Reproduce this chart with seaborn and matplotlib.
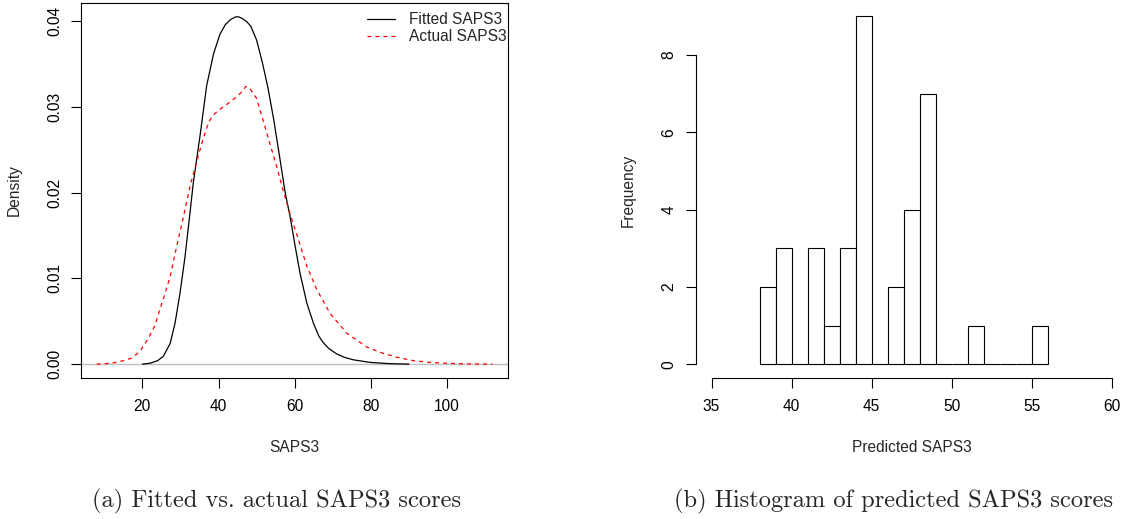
import numpy as np
import pandas as pd
import matplotlib
matplotlib.use("Agg")
import matplotlib.pyplot as plt
import seaborn as sns

# ---- data ----
fitted_x = [20, 22, 24, 25.5, 27.3, 28.6, 29.9, 31.2, 32.5, 33.4, 35.2, 36.9, 38.7, 40.4,
            41.8, 43.2, 44.5, 45.3, 46.3, 47.5, 48.5, 50.0, 51.5, 53.0, 54.5, 56.0, 57.5,
            58.8, 60.1, 61.4, 63.2, 64.9, 66.3, 67.5, 69.0, 71.0, 73.0, 75.4, 79.8, 85, 90]
fitted_y = [0.0000, 0.0001, 0.0004, 0.0009, 0.0024, 0.0048, 0.0083, 0.0125, 0.0176, 0.0212,
            0.0268, 0.0325, 0.0362, 0.0385, 0.0396, 0.0402, 0.0405, 0.0405, 0.0403, 0.0399,
            0.0394, 0.0378, 0.0352, 0.0322, 0.0285, 0.0243, 0.0200, 0.0172, 0.0138, 0.0106,
            0.0071, 0.0048, 0.0033, 0.0025, 0.0018, 0.0012, 0.0008, 0.0005, 0.0002, 0.00005, 0.0]

actual_x = [8, 12, 15, 17.2, 19.4, 21.6, 23.4, 24.7, 26.0, 27.3, 29.0, 30.8, 32.5, 33.4,
            34.5, 35.6, 36.5, 37.4, 38.5, 40.0, 42.2, 44.8, 46.2, 47.2, 48.3, 50.0, 51.8,
            53.3, 55.3, 57.0, 58.8, 61.0, 63.2, 65.8, 69.3, 73.7, 78.9, 82.9, 86.8, 91.2,
            95.5, 100, 105, 111.9]
actual_y = [0.0000, 0.0001, 0.0004, 0.0007, 0.0015, 0.0030, 0.0046, 0.0065, 0.0083, 0.0102,
            0.0137, 0.0172, 0.0207, 0.0222, 0.0240, 0.0257, 0.0270, 0.0282, 0.0290, 0.0296,
            0.0303, 0.0312, 0.0318, 0.0324, 0.0321, 0.0310, 0.0283, 0.0260, 0.0230, 0.0202,
            0.0175, 0.0145, 0.0114, 0.0087, 0.0059, 0.0036, 0.0020, 0.0013, 0.0008, 0.0004,
            0.0002, 0.0001, 0.00003, 0.0]

bin_left = [38, 39, 40, 41, 42, 43, 44, 45, 46, 47, 48, 49, 50, 51, 52, 53, 54, 55]
counts   = [2, 3, 0, 3, 1, 3, 9, 0, 2, 4, 7, 0, 0, 1, 0, 0, 0, 1]

x1_ticks = [20, 40, 60, 80, 100]
y1_ticks = [0.00, 0.01, 0.02, 0.03, 0.04]
x2_ticks = [35, 40, 45, 50, 55, 60]
y2_ticks = [0, 2, 4, 6, 8]

# ---- style ----
sns.set_style("white")
plt.rcParams['font.family'] = ['Liberation Sans', 'DejaVu Sans']
FS = 11.2
plt.rcParams['font.size'] = FS

W, H = 1125, 519
fig = plt.figure(figsize=(W / 100, H / 100), dpi=100)


def px_axes(l, t, r, b):
    return fig.add_axes([l / W, 1 - b / H, (r - l) / W, (b - t) / H])


ax1 = px_axes(81, 3, 508, 378)
ax2 = px_axes(695.5, 2.4, 1127.5, 378.2)

# ---- left: densities ----
ax1.axhline(0, color='#BEBEBE', lw=1.0, zorder=1)
sns.lineplot(x=fitted_x, y=fitted_y, ax=ax1, color='black', lw=0.9,
             label='Fitted SAPS3', sort=False, zorder=3)
sns.lineplot(x=actual_x, y=actual_y, ax=ax1, color='red', lw=0.9,
             linestyle=(0, (3.2, 3.2)), label='Actual SAPS3', sort=False, zorder=3)
ax1.set_xlim(3.9, 116.0)
ax1.set_ylim(-0.00162, 0.04212)
ax1.set_xticks(x1_ticks)
ax1.set_xticklabels([str(v) for v in x1_ticks])
ax1.set_yticks(y1_ticks)
ax1.set_yticklabels([f"{v:.2f}" for v in y1_ticks], rotation=90, va='center')
ax1.set_xlabel('SAPS3', fontsize=FS)
ax1.set_ylabel('Density', fontsize=FS)
for sp in ax1.spines.values():
    sp.set_visible(True)
    sp.set_color('black')
    sp.set_linewidth(0.8)
ax1.legend(loc='upper right', bbox_to_anchor=(1.0 - 1 / 427, 1 - 9 / 375),
           frameon=False, handlelength=1.85, handletextpad=0.9, labelspacing=0.15,
           borderaxespad=0, borderpad=0, fontsize=FS)

# ---- right: histogram ----
edges = bin_left + [bin_left[-1] + 1]
centers = [b + 0.5 for b in bin_left]
sns.histplot(x=centers, weights=counts, bins=edges, ax=ax2, color='white',
             edgecolor='black', linewidth=0.8, alpha=1)
ax2.set_xlim(34, 61)
ax2.set_ylim(-0.36, 9.36)
ax2.set_xticks(x2_ticks)
ax2.set_xticklabels([str(v) for v in x2_ticks])
ax2.set_yticks(y2_ticks)
ax2.set_yticklabels([str(v) for v in y2_ticks], rotation=90, va='center')
ax2.set_xlabel('Predicted SAPS3', fontsize=FS)
ax2.set_ylabel('Frequency', fontsize=FS)
ax2.spines['top'].set_visible(False)
ax2.spines['right'].set_visible(False)
for s in ('left', 'bottom'):
    ax2.spines[s].set_visible(True)
    ax2.spines[s].set_color('black')
    ax2.spines[s].set_linewidth(0.8)
ax2.spines['left'].set_bounds(0, 8)
ax2.spines['bottom'].set_bounds(35, 60)

for ax in (ax1, ax2):
    ax.tick_params(axis='both', which='major', length=7.2, width=0.8, color='black',
                   labelsize=FS, left=True, bottom=True, direction='out', labelcolor='black')
    ax.tick_params(axis='x', pad=7.9)
    ax.tick_params(axis='y', pad=6.3)

ax1.xaxis.set_label_coords(0.5, -(440.5 - 378) / 375)
ax2.xaxis.set_label_coords(0.5, -(440.5 - 378.2) / 375.8)
ax1.yaxis.set_label_coords(-(81 - 22) / 427, 0.5)
ax2.yaxis.set_label_coords(-(695.5 - 636) / 432, 0.5)

# ---- captions ----
fig.text(277 / W, (H - 507) / H, '(a) Fitted vs. actual SAPS3 scores',
         family='cmr10', size=17.6, ha='center', va='baseline')
fig.text(894 / W, (H - 507) / H, '(b) Histogram of predicted SAPS3 scores',
         family='cmr10', size=17.6, ha='center', va='baseline')

fig.savefig('out.png', dpi=100, facecolor='white')
